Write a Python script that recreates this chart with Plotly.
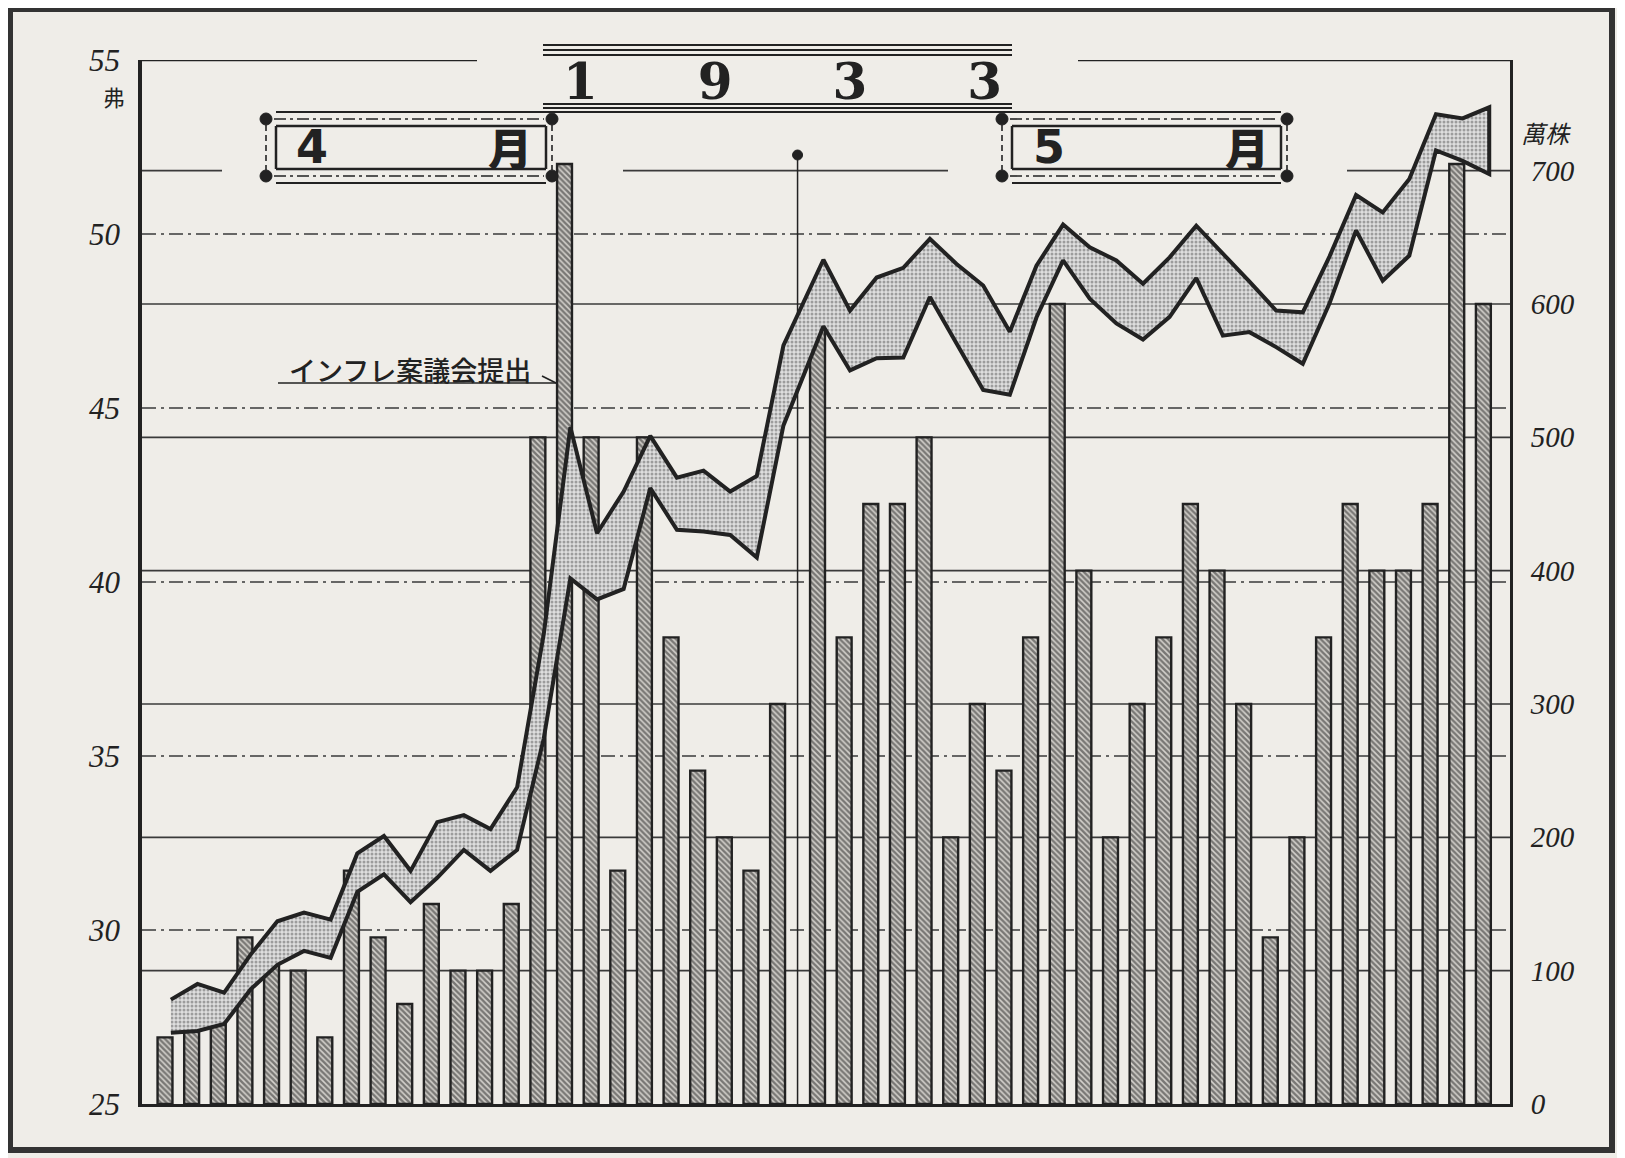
import plotly.graph_objects as go

# ---------------- data ----------------
april_days = [1, 3, 4, 5, 6, 7, 8, 10, 11, 12, 13, 15, 17, 18, 19, 20, 21, 22, 24, 25, 26, 27, 28, 29]
may_days = [1, 2, 3, 4, 5, 6, 8, 9, 10, 11, 12, 13, 15, 16, 17, 18, 19, 20, 22, 23, 24, 25, 26, 27, 29, 31]

# volume, 萬株
april_volume = [50, 75, 75, 125, 125, 100, 50, 175, 125, 75, 150, 100, 100, 150,
                500, 705, 500, 175, 500, 350, 250, 200, 175, 300]
may_volume = [600, 350, 450, 450, 500, 200, 300, 250, 350, 600, 400, 200, 300,
              350, 450, 400, 300, 125, 200, 350, 450, 400, 400, 450, 705, 600]

# price range, 弗
april_high = [28.0, 28.45, 28.2, 29.3, 30.25, 30.5, 30.3, 32.2, 32.7, 31.7, 33.1, 33.3,
              32.9, 34.1, 38.5, 44.45, 41.4, 42.6, 44.2, 43.0, 43.2, 42.6, 43.05, 46.8]
april_low = [27.05, 27.1, 27.3, 28.3, 29.0, 29.4, 29.2, 31.1, 31.6, 30.8, 31.5, 32.3,
             31.7, 32.3, 35.5, 40.1, 39.5, 39.8, 42.7, 41.5, 41.45, 41.35, 40.7, 44.5]
may_high = [49.26, 47.8, 48.75, 49.03, 49.86, 49.14, 48.52, 47.19, 49.09, 50.27, 49.62,
            49.24, 48.57, 49.33, 50.24, 49.45, 48.63, 47.8, 47.75, 49.35, 51.12, 50.62,
            51.58, 53.44, 53.32, 53.64]
may_low = [47.35, 46.08, 46.43, 46.45, 48.19, 46.86, 45.52, 45.38, 47.6, 49.24, 48.14,
           47.43, 46.97, 47.62, 48.73, 47.08, 47.18, 46.75, 46.27, 48.0, 50.1, 48.66,
           49.38, 52.4, 52.1, 51.72]

price_ticks = [25, 30, 35, 40, 45, 50, 55]
volume_ticks = [0, 100, 200, 300, 400, 500, 600, 700]

title_text = "1933"
april_label = ("4", "月")
may_label = ("5", "月")
note_text = "インフレ案議会提出"
price_unit = "弗"
volume_unit = "萬株"

# ---------------- positions (trading-day index, half-day gap between months) ----------------
month_gap = 0.5
x_april = [i for i in range(len(april_days))]
x_may = [len(april_days) + month_gap + j for j in range(len(may_days))]
x_all = x_april + x_may
volume = april_volume + may_volume
high = april_high + may_high
low = april_low + may_low
band_offset = 0.22
bx = [x + band_offset for x in x_all]

INK = "#222222"
PAPER = "#efede8"

fig = go.Figure()

fig.add_trace(go.Bar(
    x=x_all, y=volume, width=0.56, yaxis="y",
    marker=dict(color="#7a7a7a",
                line=dict(color=INK, width=2.4),
                pattern=dict(shape="\\", fgcolor="#1e1e1e", bgcolor="#d4d1cc",
                             size=4, solidity=0.62)),
    hoverinfo="skip",
))

fig.add_trace(go.Scatter(
    x=bx + bx[::-1], y=high + low[::-1], yaxis="y2",
    mode="lines", fill="toself",
    line=dict(color=INK, width=4),
    fillcolor="#cfcfcf",
    fillpattern=dict(shape=".", fgcolor="#5a5a5a", bgcolor="#dedede", size=4, solidity=0.45),
    hoverinfo="skip",
))

# ---------------- layout geometry (screen pixels; page body is offset by 8px) ----------------
OFF = 8
PL, PR, PT, PB = 142, 1510, 60, 1104
FW, FH = 1625, 1158
W, H = PR - PL, PB - PT


def fx(x):
    return (x - PL) / W


def fy(y):
    return (PB - y) / H


shapes = []


def hline(x0, x1, y, width=2, dash="solid", color=INK, layer="above"):
    shapes.append(dict(type="line", xref="paper", yref="paper",
                       x0=fx(x0), x1=fx(x1), y0=fy(y), y1=fy(y),
                       line=dict(color=color, width=width, dash=dash), layer=layer))


def vline(x, y0, y1, width=2, dash="solid", color=INK):
    shapes.append(dict(type="line", xref="paper", yref="paper",
                       x0=fx(x), x1=fx(x), y0=fy(y0), y1=fy(y1),
                       line=dict(color=color, width=width, dash=dash)))


def dot(x, y, r=6):
    shapes.append(dict(type="circle", xref="paper", yref="paper",
                       xsizemode="pixel", ysizemode="pixel",
                       xanchor=fx(x), yanchor=fy(y), x0=-r, x1=r, y0=-r, y1=r,
                       fillcolor=INK, line=dict(color=INK, width=1)))


DASHDOT = "14px,5px,3px,5px"

# gridlines: dash-dot at price ticks, solid at volume ticks
for v in price_ticks[1:-1]:
    shapes.append(dict(type="line", xref="paper", x0=0, x1=1, yref="y2", y0=v, y1=v,
                       line=dict(color="#3a3a3a", width=1.6, dash=DASHDOT), layer="below"))
for v in volume_ticks[1:-1]:
    shapes.append(dict(type="line", xref="paper", x0=0, x1=1, yref="y", y0=v, y1=v,
                       line=dict(color="#3a3a3a", width=1.6), layer="below"))
# partial top lines (interrupted by the headings)
for a, b in [(142, 222), (623, 948), (1347, 1510)]:
    shapes.append(dict(type="line", xref="paper", x0=fx(a), x1=fx(b), yref="y",
                       y0=volume_ticks[-1], y1=volume_ticks[-1],
                       line=dict(color="#3a3a3a", width=1.6), layer="below"))
for a, b in [(142, 477), (1078, 1510)]:
    shapes.append(dict(type="line", xref="paper", x0=fx(a), x1=fx(b), yref="y2",
                       y0=price_ticks[-1], y1=price_ticks[-1],
                       line=dict(color=INK, width=2.5), layer="below"))

# month divider
x_div = (x_april[-1] + x_may[0]) / 2
shapes.append(dict(type="line", xref="x", x0=x_div, x1=x_div, yref="paper",
                   y0=0, y1=fy(156), line=dict(color=INK, width=1.5), layer="below"))
shapes.append(dict(type="circle", xref="x", yref="paper", xsizemode="pixel", ysizemode="pixel",
                   xanchor=x_div, yanchor=fy(155), x0=-5, x1=5, y0=-5, y1=5,
                   fillcolor=INK, line=dict(color=INK, width=1)))

# title rules
for y in (45, 50, 55, 104, 108, 112):
    hline(543, 1012, y, width=2)


def month_box(xl, xr):
    hline(xl + 10, xr - 6, 112, width=2)
    hline(xl + 8, xr - 8, 119, width=1.6, dash="12px,4px,3px,4px")
    hline(xl + 10, xr - 6, 126, width=2.5)
    hline(xl + 10, xr - 6, 169, width=2.5)
    vline(xl + 10, 126, 169, width=2.5)
    vline(xr - 6, 126, 169, width=2.5)
    hline(xl + 8, xr - 8, 176, width=1.6, dash="12px,4px,3px,4px")
    hline(xl + 10, xr - 6, 183, width=2)
    vline(xl, 125, 170, width=1.6, dash="6px,4px")
    vline(xr, 125, 170, width=1.6, dash="6px,4px")
    for x in (xl, xr):
        for y in (119, 176):
            dot(x, y)


month_box(266, 552)
month_box(1002, 1287)

# annotation underline with arrow barb
hline(278, 556, 383, width=1.6)
shapes.append(dict(type="line", xref="paper", yref="paper",
                   x0=fx(542), x1=fx(556), y0=fy(376), y1=fy(383),
                   line=dict(color=INK, width=1.6)))

# printed page frame
shapes.append(dict(type="rect", xref="paper", yref="paper",
                   x0=fx(10), x1=fx(1612), y0=fy(1150), y1=fy(9),
                   line=dict(color="#333333", width=6), layer="below"))

annotations = []


def text(x, y, s, size, family, color=INK, weight="normal", style="normal",
         xanchor="center", yanchor="middle"):
    annotations.append(dict(xref="paper", yref="paper", x=fx(x), y=fy(y), text=s,
                            showarrow=False, xanchor=xanchor, yanchor=yanchor,
                            font=dict(size=size, family=family, color=color,
                                      weight=weight, style=style)))


gap = "\u2003\u2002\u2002"
text(782, 82, gap.join(list(title_text)), 50, "DejaVu Serif", weight="bold")
text(312, 147, april_label[0], 46, "DejaVu Sans", weight="bold")
text(510, 147, april_label[1], 44, "Noto Sans CJK JP", weight=900)
text(1049, 147, may_label[0], 46, "DejaVu Sans", weight="bold")
text(1247, 147, may_label[1], 44, "Noto Sans CJK JP", weight=900)
text(410, 369, note_text, 27, "Noto Sans CJK JP", weight=500)
text(114, 96, price_unit, 22, "Noto Sans CJK JP")
text(1546, 132, volume_unit, 24, "Noto Sans CJK JP", style="italic")

fig.update_layout(
    width=FW, height=FH,
    margin=dict(l=PL - OFF, r=FW - (PR - OFF), t=PT - OFF, b=FH - (PB - OFF)),
    paper_bgcolor=PAPER, plot_bgcolor=PAPER,
    showlegend=False, barmode="overlay",
    xaxis=dict(range=[-0.864, 50.5], showgrid=False, zeroline=False,
               showticklabels=False, ticks="", showline=True, linecolor=INK, linewidth=3),
    yaxis=dict(range=[0, 783], side="right", tickvals=volume_ticks,
               ticktext=[str(v) for v in volume_ticks],
               tickfont=dict(family="Liberation Serif", size=29, style="italic", color=INK),
               ticklabelstandoff=12, ticks="", showgrid=False, zeroline=False,
               showline=True, linecolor=INK, linewidth=3, automargin=False),
    yaxis2=dict(range=[25, 55], overlaying="y", side="left", tickvals=price_ticks,
                ticktext=[str(v) for v in price_ticks],
                tickfont=dict(family="Liberation Serif", size=31, style="italic", color=INK),
                ticklabelstandoff=12, ticks="", showgrid=False, zeroline=False,
                showline=True, linecolor=INK, linewidth=3.5, automargin=False),
    shapes=shapes,
    annotations=annotations,
)

fig.write_html("out.html")
